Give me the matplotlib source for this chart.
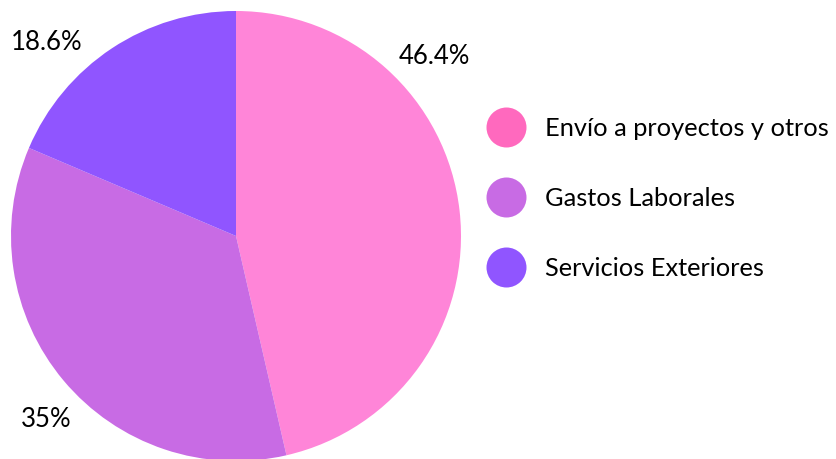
import matplotlib.pyplot as plt

categorias = ['Envío a proyectos y otros', 'Gastos Laborales', 'Servicios Exteriores']
valores = [46.4, 35, 18.6]
colores_pie = ['#FF85D8', '#C86BE4', '#9055FF']
colores_leyenda = ['#FF69BE', '#C86BE4', '#9055FF']

# posiciones de las etiquetas (pixeles, origen arriba-izquierda)
pos_etiquetas = [(434, 57), (46, 420), (47, 42)]

plt.rcParams['font.family'] = ['Lato', 'DejaVu Sans']

W, H = 837, 460
fig = plt.figure(figsize=(W / 100, H / 100), dpi=100)
ax = fig.add_axes([0, 0, 1, 1])

ax.pie(valores, colors=colores_pie, startangle=90, counterclock=False,
       center=(236, H - 237), radius=225, frame=True,
       wedgeprops=dict(linewidth=0))
ax.set_xlim(0, W)
ax.set_ylim(0, H)
ax.set_aspect('equal')
ax.axis('off')

for v, (x, y) in zip(valores, pos_etiquetas):
    ax.text(x, H - y, '{:g}%'.format(v), fontsize=18.5, ha='center', va='center')

for i, (cat, col) in enumerate(zip(categorias, colores_leyenda)):
    y = H - (128 + i * 70)
    ax.scatter([506], [y], s=(40 * 0.72) ** 2, color=col, linewidths=0)
    ax.text(545, y, cat, fontsize=18.3, ha='left', va='center')

fig.savefig('out.png', dpi=100)
